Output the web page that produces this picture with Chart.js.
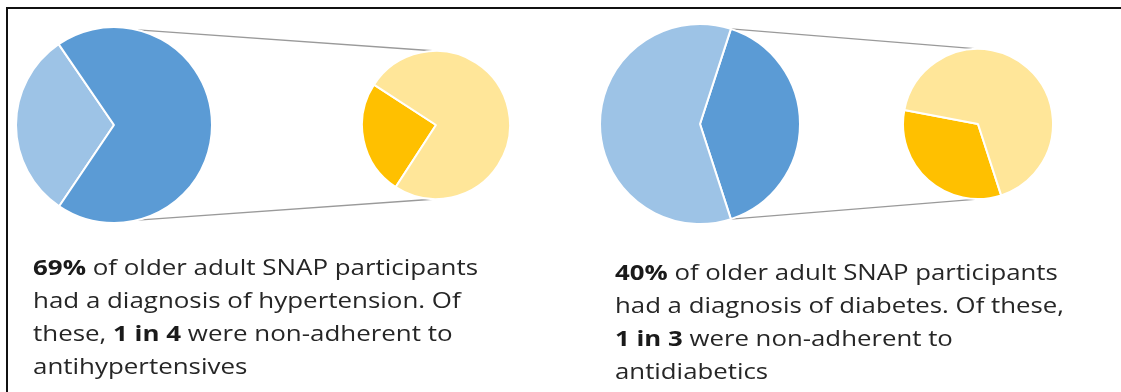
<!DOCTYPE html>
<html>
<head>
<meta charset="utf-8">
<script src="https://cdn.jsdelivr.net/npm/chart.js@4.4.1/dist/chart.umd.min.js"></script>
<style>
  html, body { margin: 0; padding: 0; background: #fff; }
  body { width: 1121px; height: 392px; position: relative; overflow: hidden; }
  #frame { position: absolute; left: 6px; top: 7px; width: 1130px; height: 400px; border: 2px solid #111; box-sizing: border-box; }
  .pie { position: absolute; }
  #links { position: absolute; left: 0; top: 0; }
  .txt { position: absolute; font-family: "Open Sans", Lato, sans-serif; font-size: 21px; line-height: 33px; color: #262626; white-space: nowrap; transform-origin: 0 0; }
  .txt b { font-weight: 700; color: #1a1a1a; }
</style>
</head>
<body>
<div id="frame"></div>
<canvas id="links" width="1121" height="392"></canvas>
<div class="pie" id="p1"><canvas id="c1"></canvas></div>
<div class="pie" id="p2"><canvas id="c2"></canvas></div>
<div class="pie" id="p3"><canvas id="c3"></canvas></div>
<div class="pie" id="p4"><canvas id="c4"></canvas></div>
<div class="txt" id="t1" style="left:33px; top:251px;"><span id="l1"><b>69%</b> of older adult SNAP participants</span><br>had a diagnosis of hypertension. Of<br>these, <b>1 in 4</b> were non-adherent to<br>antihypertensives</div>
<div class="txt" id="t2" style="left:615px; top:256px;"><span id="l2"><b>40%</b> of older adult SNAP participants</span><br>had a diagnosis of diabetes. Of these,<br><b>1 in 3</b> were non-adherent to<br>antidiabetics</div>
<script>
// ---- data ----
const hypertensionLabels = ["No hypertension", "Hypertension"];
const hypertensionValues = [31, 69];
const htnAdherenceLabels = ["Non-adherent", "Adherent"];
const htnAdherenceValues = [25, 75];
const diabetesLabels = ["Diabetes", "No diabetes"];
const diabetesValues = [40, 60];
const dmAdherenceLabels = ["Non-adherent", "Adherent"];
const dmAdherenceValues = [33, 67];

const DARK_BLUE = "#5B9BD5", LIGHT_BLUE = "#9DC3E6", ORANGE = "#FFC000", LIGHT_YELLOW = "#FFE699";

// stretch caption text horizontally to the reference line width
[["t1", "l1", 445], ["t2", "l2", 443]].forEach(([t, l, w]) => {
  const s = w / document.getElementById(l).getBoundingClientRect().width;
  document.getElementById(t).style.transform = "scaleX(" + s.toFixed(3) + ")";
});

function makePie(id, divId, cx, cy, r, labels, values, colors, rotation) {
  const size = Math.round(2 * r + 2);
  const div = document.getElementById(divId);
  div.style.left = (cx - size / 2) + "px";
  div.style.top = (cy - size / 2) + "px";
  const cv = document.getElementById(id);
  cv.width = size; cv.height = size;
  cv.style.width = size + "px"; cv.style.height = size + "px";
  return new Chart(cv, {
    type: "pie",
    data: { labels: labels, datasets: [{ data: values, backgroundColor: colors, borderColor: "#ffffff", borderWidth: 2 }] },
    options: {
      responsive: false, animation: false, rotation: rotation,
      layout: { padding: 0 },
      plugins: { legend: { display: false }, tooltip: { enabled: false } }
    }
  });
}

const ch1 = makePie("c1", "p1", 114, 125, 98, hypertensionLabels, hypertensionValues, [LIGHT_BLUE, DARK_BLUE], 214);
const ch2 = makePie("c2", "p2", 436, 125, 74, htnAdherenceLabels, htnAdherenceValues, [ORANGE, LIGHT_YELLOW], 213);
const ch3 = makePie("c3", "p3", 700, 124, 100, diabetesLabels, diabetesValues, [DARK_BLUE, LIGHT_BLUE], 18);
const ch4 = makePie("c4", "p4", 978, 124, 75, dmAdherenceLabels, dmAdherenceValues, [ORANGE, LIGHT_YELLOW], 162);

function arcGeom(chart, divId) {
  const a = chart.getDatasetMeta(0).data[0];
  const div = document.getElementById(divId);
  return { x: a.x + parseFloat(div.style.left), y: a.y + parseFloat(div.style.top), r: a.outerRadius };
}
function pt(g, deg) { const t = deg * Math.PI / 180; return [g.x + g.r * Math.cos(t), g.y + g.r * Math.sin(t)]; }

const lctx = document.getElementById("links").getContext("2d");
lctx.strokeStyle = "#9a9a9a"; lctx.lineWidth = 1.3;
function link(gBig, aBig, gSmall, aSmall) {
  const p = pt(gBig, aBig), q = pt(gSmall, aSmall);
  lctx.beginPath(); lctx.moveTo(p[0], p[1]); lctx.lineTo(q[0], q[1]); lctx.stroke();
}
const g1 = arcGeom(ch1, "p1"), g2 = arcGeom(ch2, "p2"), g3 = arcGeom(ch3, "p3"), g4 = arcGeom(ch4, "p4");
link(g1, -76, g2, -90); link(g1, 76, g2, 90);
link(g3, -72, g4, -88); link(g3, 72, g4, 88);
</script>
</body>
</html>
